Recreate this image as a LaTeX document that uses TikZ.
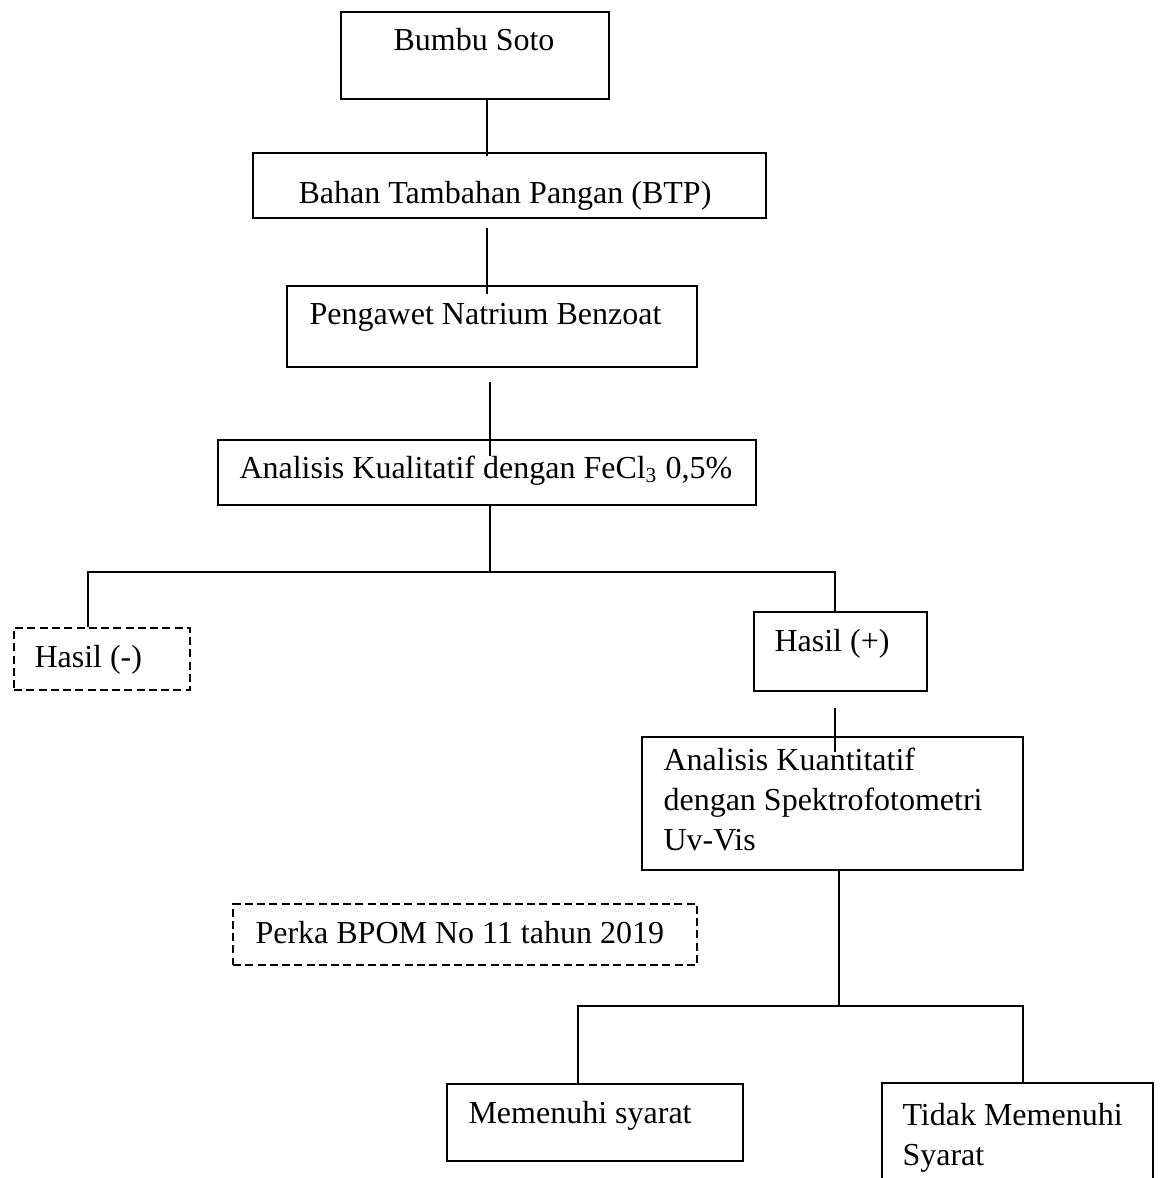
\documentclass[tikz,border=0pt]{standalone}
\usepackage{fontspec}
\setmainfont{Liberation Serif}
\usepackage{tikz}
\usetikzlibrary{positioning,calc,fit}

\tikzset{
    box/.style={draw, line width=1pt, inner sep=0pt},
    dashbox/.style={box, dash pattern=on 3pt off 1.6pt},
    lbl/.style={anchor=base west, inner sep=0pt, font=\fontsize{12}{15}\selectfont},
    link/.style={line width=1pt}
}

\begin{document}
\begin{tikzpicture}[x=0.375pt, y=-0.375pt]
    \clip (0,0) rectangle (1163,1178);
    \fill[white] (0,0) rectangle (1163,1178);

    % Boxes
    \node[box, fit={(341,12) (609,99)}] (soto) {};
    \node[box, fit={(253,153) (766,218)}] (btp) {};
    \node[box, fit={(287,286) (697,367)}] (benz) {};
    \node[box, fit={(218,440) (756,505)}] (kual) {};
    \node[dashbox, fit={(14,628) (190,690)}] (neg) {};
    \node[box, fit={(754,612) (927,691)}] (pos) {};
    \node[box, fit={(642,737) (1023,870)}] (kuan) {};
    \node[dashbox, fit={(233,904) (697,965)}] (bpom) {};
    \node[box, fit={(447,1084) (743,1161)}] (ok) {};
    \node[box, fit={(882,1083) (1153,1210)}] (notok) {}; % runs off the page

    % Texts
    \node[lbl, anchor=base] (sotolbl) at (474,50) {Bumbu Soto};
    \node[lbl, anchor=base] (btplbl) at (505,203) {Bahan Tambahan Pangan (BTP)};
    \node[lbl] (benzlbl) at (309,324) {Pengawet Natrium Benzoat};
    \node[lbl] (kuallbl) at (239,478) {Analisis Kualitatif dengan FeCl\textsubscript{3} 0,5\%};
    \node[lbl] (neglbl) at (34,667) {Hasil (-)};
    \node[lbl] (poslbl) at (774,651) {Hasil (+)};
    \node[lbl, anchor=north west, align=left, text depth=0pt] (kuanlbl) at (663,747)
        {Analisis Kuantitatif\\dengan Spektrofotometri\\Uv-Vis};
    \node[lbl] (bpomlbl) at (255,943) {Perka BPOM No 11 tahun 2019};
    \node[lbl] (oklbl) at (468,1123) {Memenuhi syarat};
    \node[lbl, anchor=north west, align=left] (notoklbl) at (902,1103)
        {Tidak Memenuhi\\Syarat};

    % Connectors
    \coordinate (spine) at (487,0);
    \coordinate (spinetwo) at (490,0);
    \coordinate (fork) at (490,572);
    \coordinate (forktwo) at (839,1006);
    \draw[link] (soto.south -| spine) -- ($(btp.north -| spine)+(0,4)$);
    \draw[link] ($(btp.south -| spine)+(0,9)$) -- ($(benz.north -| spine)+(0,9)$);
    \draw[link] ($(benz.south -| spinetwo)+(0,14)$) -- ($(kual.north -| spinetwo)+(0,17)$);
    \draw[link] (kual.south -| fork) -- (fork);
    \draw[link] ($(neg.north)+(-14,0)$) |- (fork) -| ($(pos.north)+(-5.5,0)$);
    \draw[link] ($(pos.south)+(-5.5,16)$) -- ($(kuan.north)+(2.5,16)$);
    \draw[link] (kuan.south -| forktwo) -- (forktwo);
    \draw[link] ($(ok.north)+(-17,0)$) |- (forktwo) -| ($(notok.north)+(5.5,0)$);
\end{tikzpicture}
\end{document}
